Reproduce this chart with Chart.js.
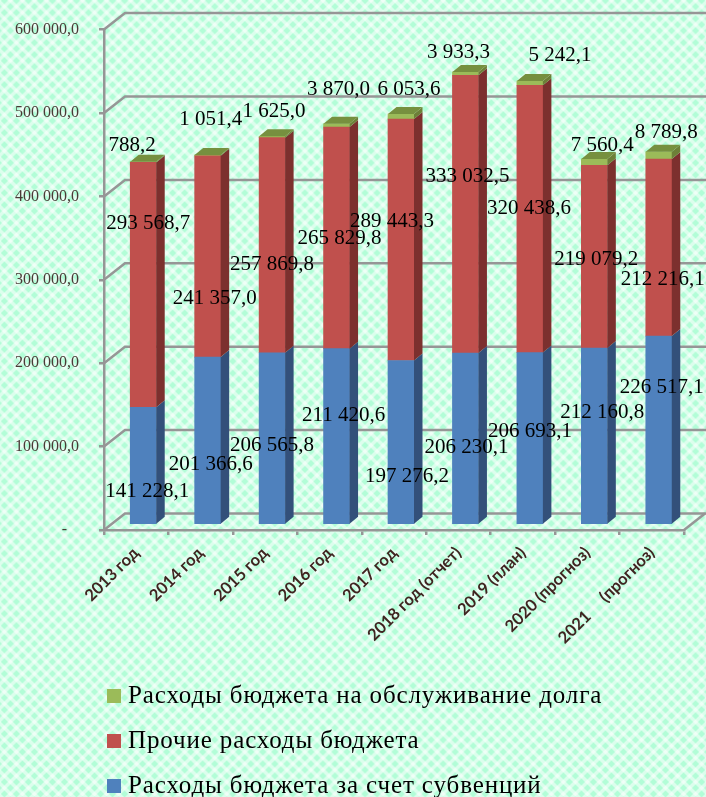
<!DOCTYPE html>
<html lang="ru"><head><meta charset="utf-8"><title>Расходы бюджета</title>
<script src="https://cdn.jsdelivr.net/npm/chart.js@4/dist/chart.umd.min.js"></script>
<style>
html,body{margin:0;padding:0;width:706px;height:797px;overflow:hidden}
body{background-color:#b2fdd7;background-image:
repeating-linear-gradient(45deg,rgba(255,255,255,.55) 0,rgba(255,255,255,.55) 2px,rgba(255,255,255,0) 3.5px,rgba(255,255,255,0) 7px,rgba(255,255,255,.55) 8.5px),
repeating-linear-gradient(-45deg,rgba(255,255,255,.55) 0,rgba(255,255,255,.55) 2px,rgba(255,255,255,0) 3.5px,rgba(255,255,255,0) 7px,rgba(255,255,255,.55) 8.5px)}
canvas{display:block}
</style></head><body>
<canvas id="c" width="706" height="797"></canvas>
<script>
const categories=["2013 год","2014 год","2015 год","2016 год","2017 год","2018 год (отчет)","2019 (план)","2020 (прогноз)","2021     (прогноз)"];
const subventions=[141228.1,201366.6,206565.8,211420.6,197276.2,206230.1,206693.1,212160.8,226517.1];
const otherExpenses=[293568.7,241357.0,257869.8,265829.8,289443.3,333032.5,320438.6,219079.2,212216.1];
const debtService=[788.2,1051.4,1625.0,3870.0,6053.6,3933.3,5242.1,7560.4,8789.8];
const seriesNames=["Расходы бюджета за счет субвенций","Прочие расходы бюджета","Расходы бюджета на обслуживание долга"];
const yTicks=[0,100000,200000,300000,400000,500000,600000];

const fmt=v=>{const s=v.toFixed(1).split('.');return s[0].replace(/\B(?=(\d{3})+$)/g,' ')+','+s[1];};
const SHIFT={x:7,y:-5},DEPTH={x:8.5,y:-7},WALL={x:21,y:-16.5};
const GRID='#969696';
const colors=['#4f81bd','#c0504d','#9bbb59'];
const faces=[{side:'#33507a'},{side:'#7c302e'},{side:'#6d8038',top:'#76903f'}];
const nudges=[
 [[4,24],[3,22],[0,5],[7,-23],[6,32],[1,7],[0,-9],[8,-25],[3,-44]],
 [[5,-63],[7,40],[0,17],[3,-1],[-9,-20],[2,-40],[-1,-13],[2,1],[4,30]],
 [[-11,-19],[3,-38],[2,-27],[2,-38],[8,-29],[-7,-23],[30,-30],[8,-19],[7.5,-25]]
];
function poly(ctx,pts,fill){ctx.beginPath();pts.forEach((p,i)=>i?ctx.lineTo(p[0],p[1]):ctx.moveTo(p[0],p[1]));ctx.closePath();ctx.fillStyle=fill;ctx.fill();}
const swatches=colors.map(c=>{const s=document.createElement('canvas');s.width=14;s.height=14;const g=s.getContext('2d');g.fillStyle=c;g.fillRect(0,0,14,14);return s;});

const wallPlugin={id:'wall',beforeDatasetsDraw(chart){
 const ctx=chart.ctx,y=chart.scales.y,a=chart.chartArea;
 ctx.save();ctx.strokeStyle=GRID;ctx.lineWidth=2.5;
 y.ticks.forEach(t=>{const py=y.getPixelForValue(t.value);
  ctx.beginPath();ctx.moveTo(a.left,py);ctx.lineTo(a.left+WALL.x,py+WALL.y);ctx.lineTo(chart.width,py+WALL.y);ctx.stroke();});
 const py=y.getPixelForValue(0);
 ctx.beginPath();ctx.moveTo(a.right,py);ctx.lineTo(a.right+WALL.x,py+WALL.y);ctx.stroke();
 ctx.restore();
 ctx.save();ctx.translate(SHIFT.x,SHIFT.y);
},afterDatasetsDraw(chart){
 const ctx=chart.ctx,n=chart.data.datasets.length;
 chart.data.datasets.forEach((d,di)=>{chart.getDatasetMeta(di).data.forEach(b=>{
  const r=b.x+b.width/2,l=b.x-b.width/2;
  poly(ctx,[[r,b.y],[r+DEPTH.x,b.y+DEPTH.y],[r+DEPTH.x,b.base+DEPTH.y],[r,b.base]],faces[di].side);
  if(di===n-1)poly(ctx,[[l,b.y],[l+DEPTH.x,b.y+DEPTH.y],[r+DEPTH.x,b.y+DEPTH.y],[r,b.y]],faces[di].top);
 });});
 ctx.restore();
},afterDraw(chart){
 const ctx=chart.ctx;ctx.save();ctx.font='21px "Liberation Serif"';ctx.fillStyle='#000';ctx.textAlign='center';ctx.textBaseline='middle';
 chart.data.datasets.forEach((d,di)=>{chart.getDatasetMeta(di).data.forEach((b,i)=>{
  const n=nudges[di][i];
  ctx.fillText(fmt(d.data[i]),b.x+SHIFT.x+n[0],(b.y+b.base)/2+SHIFT.y+n[1]+2);
 });});
 ctx.restore();
},afterLayout(chart){const lg=chart.legend;lg.left=91.5;lg.top=663.5;
 if(!lg._spaced){lg._spaced=true;const orig=lg.draw;lg.draw=function(){const c=chart.ctx;c.save();c.letterSpacing='0.87px';orig.call(this);c.restore();};}
}};

new Chart(document.getElementById('c'),{type:'bar',
 data:{labels:categories,datasets:[
  {label:seriesNames[0],data:subventions,backgroundColor:colors[0]},
  {label:seriesNames[1],data:otherExpenses,backgroundColor:colors[1]},
  {label:seriesNames[2],data:debtService,backgroundColor:colors[2]}]},
 options:{responsive:false,animation:false,
  layout:{padding:{top:29,right:22,left:0,bottom:0}},
  datasets:{bar:{barThickness:26,clip:false}},
  plugins:{tooltip:{enabled:false},
   legend:{position:'bottom',align:'start',reverse:true,
    labels:{usePointStyle:true,pointStyleWidth:4,boxHeight:14,padding:20,color:'#000',font:{family:'"Liberation Serif"',size:25},
     generateLabels(chart){const items=Chart.defaults.plugins.legend.labels.generateLabels(chart);items.forEach(it=>{it.pointStyle=swatches[it.datasetIndex];});return items;}}}},
  scales:{
   x:{stacked:true,
    grid:{drawOnChartArea:false,drawTicks:true,tickLength:5,color:GRID,lineWidth:2.5,offset:true},
    border:{color:GRID,width:2.5},
    ticks:{minRotation:45,maxRotation:45,padding:8,color:'#3f2420',autoSkip:false,font:{family:'Lato',weight:'bold',size:16.5}},
    afterFit(s){s.height=797-530-s.chart.legend.height;}},
   y:{stacked:true,min:0,max:600000,afterBuildTicks(s){s.ticks=yTicks.map(v=>({value:v}));},
    grid:{drawOnChartArea:false,drawTicks:true,tickLength:5,color:GRID,lineWidth:2.5},
    border:{color:GRID,width:2.5},
    ticks:{padding:20,color:'#4a3a36',font:{family:'"Liberation Serif"',size:16},callback:v=>v===0?'-\u00a0\u00a0\u00a0':fmt(v)},
    afterFit(s){s.width=104;}}
  }},
 plugins:[wallPlugin]});
</script>
</body></html>
